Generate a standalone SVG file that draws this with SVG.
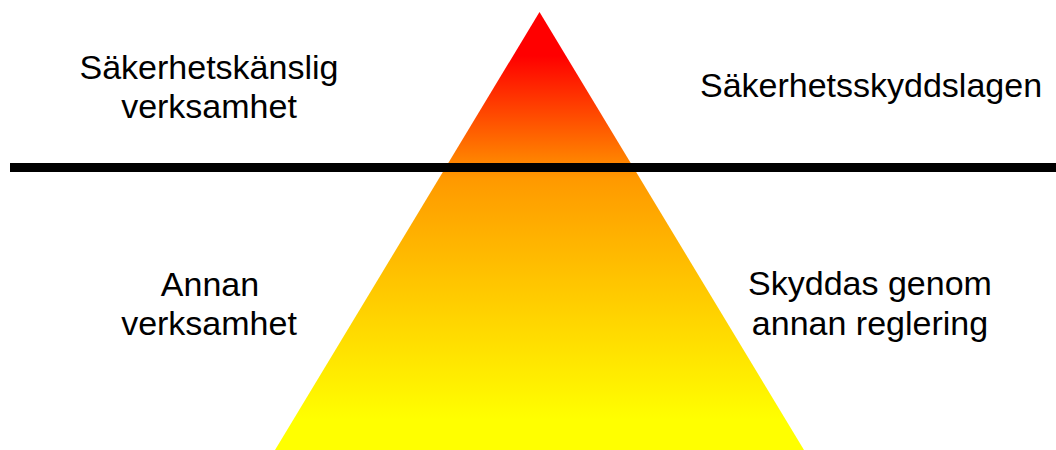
<svg xmlns="http://www.w3.org/2000/svg" width="1056" height="450" viewBox="0 0 1056 450">
  <style>
    .lbl { font-family: "Liberation Sans", Arial, sans-serif; font-size: 34px; fill: #000; text-anchor: middle; }
  </style>
  <defs>
    <linearGradient id="pyrGrad" gradientUnits="userSpaceOnUse" x1="0" y1="12" x2="0" y2="450">
      <stop offset="0" stop-color="#FF0000"/>
      <stop offset="0.1" stop-color="#FF0000"/>
      <stop offset="0.38" stop-color="#FF9900"/>
      <stop offset="0.93" stop-color="#FFFF00"/>
      <stop offset="1" stop-color="#FFFF00"/>
    </linearGradient>
  </defs>
  <rect width="1056" height="450" fill="#FFFFFF"/>
  <g id="pyramid">
    <polygon points="539.5,12 275,450 804,450" fill="url(#pyrGrad)"/>
  </g>
  <g id="connectors">
    <rect x="10" y="163" width="1046" height="9" fill="#000000"/>
  </g>
  <g id="label-top-left">
    <text class="lbl" x="209" y="79">Säkerhetskänslig</text>
    <text class="lbl" x="209" y="118">verksamhet</text>
  </g>
  <g id="label-top-right">
    <text class="lbl" x="871" y="97">Säkerhetsskyddslagen</text>
  </g>
  <g id="label-bottom-left">
    <text class="lbl" x="210" y="296">Annan</text>
    <text class="lbl" x="209" y="335">verksamhet</text>
  </g>
  <g id="label-bottom-right">
    <text class="lbl" x="870" y="295">Skyddas genom</text>
    <text class="lbl" x="870" y="335">annan reglering</text>
  </g>
</svg>
